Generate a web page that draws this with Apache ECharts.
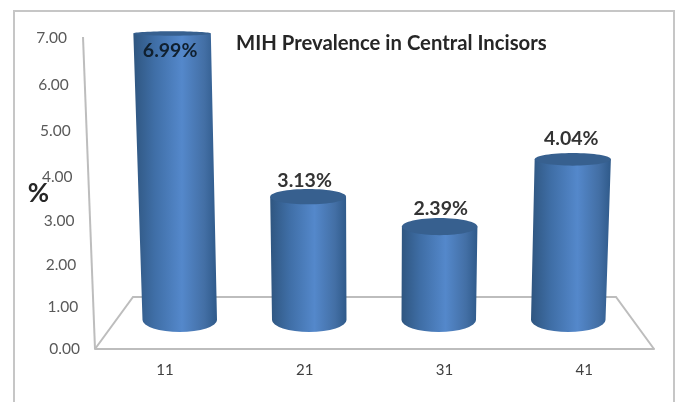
<!DOCTYPE html>
<html>
<head>
<meta charset="utf-8">
<style>html,body{margin:0;padding:0;background:#fff}#chart{width:678px;height:402px}</style>
<script src="https://cdn.jsdelivr.net/npm/echarts@6/dist/echarts.min.js"></script>
</head>
<body>
<div id="chart"></div>
<script>
// Teeth and their MIH prevalence (%)
const categories = ['11', '21', '31', '41'];
const prevalence = [6.99, 3.13, 2.39, 4.04];
const valueTicks = [0, 1, 2, 3, 4, 5, 6, 7];
const tickLabels = ['0.00', '1.00', '2.00', '3.00', '4.00', '5.00', '6.00', '7.00'];

// Label nudges relative to each cylinder's top centre, in pixels
const labelShiftX = [-2, -3.5, 1, -1.5];
const labelShiftY = [17.5, -16, -18, -20.5];

// The 3D view stretches the value scale with height and fans columns outward
const warp = v => Math.round(1e6 * v * (41.5 + 0.45 * v) / (41.5 + 0.45 * 7)) / 1e6;
const FAN = 0.0057;
const VANISH_X = 372;
const BAR_WIDTH = 74.5;
const ellipseRy = v => 12 - 1.4 * v;
const FONT = 'Lato, "Open Sans", sans-serif';
const FRAME = '#c6c6c6';
const WALL = '#bdbdbd';

const sideGradient = {
  type: 'linear', x: 0, y: 0, x2: 1, y2: 0,
  colorStops: [
    { offset: 0, color: '#2f5680' },
    { offset: 0.25, color: '#3f6ea6' },
    { offset: 0.58, color: '#5488cb' },
    { offset: 0.85, color: '#436fa5' },
    { offset: 1, color: '#2f5a8a' }
  ]
};

function renderCylinder(params, api) {
  const i = params.dataIndex;
  const v = api.value(1);
  const base = api.coord([i, 0]);
  const top = api.coord([i, warp(v)]);
  const cxTop = base[0] + (base[0] - VANISH_X) * FAN * v;
  const rxBase = BAR_WIDTH / 2;
  const rxTop = rxBase * (1 + FAN * v);
  const ryBase = ellipseRy(0);
  const ryTop = ellipseRy(v);
  // Side wall with a rounded foot; the top edge is hidden under the rim ellipse
  const body = [
    'M', cxTop - rxTop, top[1],
    'L', base[0] - rxBase, base[1],
    'A', rxBase, ryBase, 0, 0, 0, base[0] + rxBase, base[1],
    'L', cxTop + rxTop, top[1],
    'Z'
  ].join(' ');

  const label = {
    type: 'text',
    style: {
      x: cxTop + labelShiftX[i],
      y: top[1] + labelShiftY[i],
      text: v.toFixed(2) + '%',
      font: 'bold 19.5px ' + FONT,
      fill: i === 0 ? '#10202f' : '#333333',
      textAlign: 'center',
      textVerticalAlign: 'middle'
    }
  };
  const cylinder = [
    { type: 'path', shape: { pathData: body }, style: { fill: sideGradient } },
    {
      type: 'ellipse',
      shape: { cx: cxTop, cy: top[1], rx: rxTop, ry: ryTop },
      style: { fill: '#37608f' }
    }
  ];
  // A label standing above a column sits behind its rim; one on the column sits in front
  const children = labelShiftY[i] > 0 ? cylinder.concat(label) : [label].concat(cylinder);
  return { type: 'group', children };
}

// Finds which tick a warped axis value belongs to
const tickIndexOf = value => valueTicks.findIndex(t => Math.abs(warp(t) - value) < 1e-5);

const chart = echarts.init(document.getElementById('chart'), null, { renderer: 'canvas' });
chart.setOption({
  animation: false,
  backgroundColor: '#ffffff',
  title: {
    text: 'MIH Prevalence in Central Incisors',
    left: 231, top: 28,
    textStyle: { fontFamily: FONT, fontSize: 20.3, fontWeight: 'bold', color: '#262626' }
  },
  grid: [
    { left: 95, width: 559, top: 38, height: 311 },
    { left: 115, width: 518, top: 33, height: 287 }
  ],
  xAxis: [
    {
      type: 'category', gridIndex: 0, data: categories,
      axisTick: { show: false },
      axisLine: { lineStyle: { color: WALL, width: 2 } },
      axisLabel: { fontFamily: FONT, fontSize: 15, color: '#404040', margin: 14 }
    },
    { type: 'category', gridIndex: 1, data: categories, show: false }
  ],
  yAxis: [
    {
      type: 'value', gridIndex: 0, min: 0, max: 7,
      axisLine: { show: false },
      axisTick: { show: false },
      splitLine: { show: false },
      name: '%',
      nameLocation: 'middle',
      nameRotate: 0,
      nameGap: 46,
      nameMoveOverlap: false,
      nameTextStyle: { fontFamily: FONT, fontSize: 26, fontWeight: 'bold', color: '#262626', padding: [26, 0, 0, 0] },
      axisLabel: {
        customValues: valueTicks.map(warp),
        margin: 15,
        showMinLabel: true,
        showMaxLabel: true,
        hideOverlap: false,
        // Labels follow the slant of the back wall
        formatter: value => {
          const index = tickIndexOf(value);
          return `{t${index}|${tickLabels[index]}}`;
        },
        rich: Object.fromEntries(valueTicks.map(t => [
          't' + t,
          {
            fontFamily: FONT, fontSize: 15.5, color: '#595959',
            padding: [0, 1.86 * t, 0, 0]
          }
        ]))
      }
    },
    { type: 'value', gridIndex: 1, min: 0, max: 7, show: false }
  ],
  graphic: [
    { type: 'rect', z: 0, shape: { x: 14, y: 11, width: 660, height: 420 }, style: { fill: 'none', stroke: FRAME, lineWidth: 2 } },
    { type: 'polyline', z: 0, shape: { points: [[95, 349], [133, 297], [616, 297], [654, 349]] }, style: { fill: 'none', stroke: WALL, lineWidth: 2 } },
    { type: 'line', z: 0, shape: { x1: 83, y1: 37, x2: 95, y2: 349 }, style: { stroke: WALL, lineWidth: 2 } }
  ],
  series: [
    {
      type: 'custom',
      name: 'MIH prevalence',
      xAxisIndex: 1,
      yAxisIndex: 1,
      data: prevalence.map((v, i) => [i, v]),
      encode: { x: 0, y: 1 },
      clip: false,
      renderItem: renderCylinder
    }
  ]
});
</script>
</body>
</html>
